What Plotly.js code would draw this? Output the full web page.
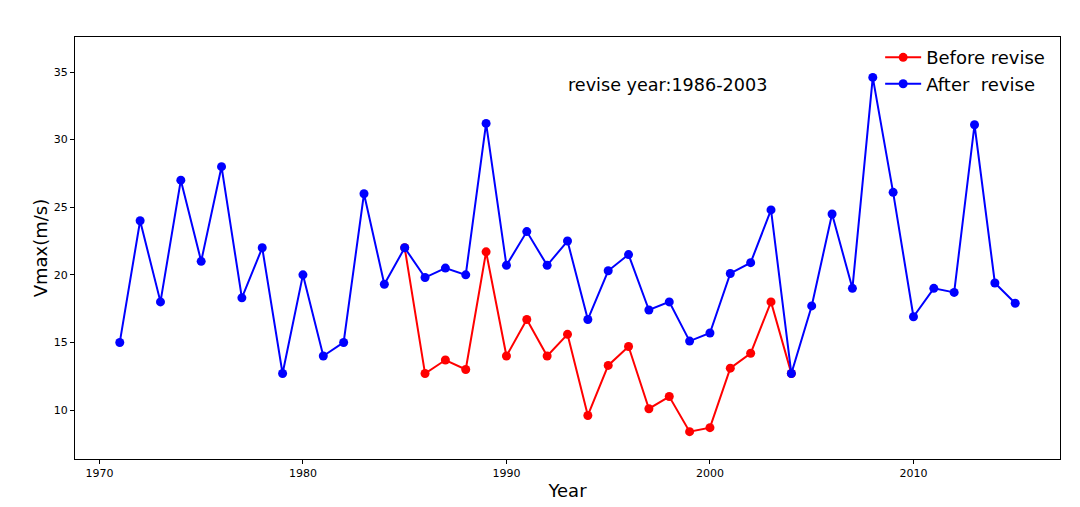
<!DOCTYPE html>
<html>
<head>
<meta charset="utf-8">
<script src="https://cdn.plot.ly/plotly-3.0.1.min.js"></script>
<style>html,body{margin:0;padding:0;background:#fff;}#chart{width:1080px;height:507px;}</style>
</head>
<body>
<div id="chart"></div>
<script>
const afterYears = [1971,1972,1973,1974,1975,1976,1977,1978,1979,1980,1981,1982,1983,1984,1985,1986,1987,1988,1989,1990,1991,1992,1993,1994,1995,1996,1997,1998,1999,2000,2001,2002,2003,2004,2005,2006,2007,2008,2009,2010,2011,2012,2013,2014,2015];
const afterValues = [15,24,18,27,21,28,18.3,22,12.7,20,14,15,26,19.3,22,19.8,20.5,20,31.2,20.7,23.2,20.7,22.5,16.7,20.3,21.5,17.4,18,15.1,15.7,20.1,20.9,24.8,12.7,17.7,24.5,19,34.6,26.1,16.9,19,18.7,31.1,19.4,17.9];
const beforeYears = [1985,1986,1987,1988,1989,1990,1991,1992,1993,1994,1995,1996,1997,1998,1999,2000,2001,2002,2003,2004];
const beforeValues = [22,12.7,13.7,13,21.7,14,16.7,14,15.6,9.6,13.3,14.7,10.1,11,8.4,8.7,13.1,14.2,18,12.7];
const xTicks = [1970,1980,1990,2000,2010];
const yTicks = [10,15,20,25,30,35];

const font = "DejaVu Sans, sans-serif";
const traces = [
  {x: beforeYears, y: beforeValues, name: 'Before revise', mode: 'lines+markers',
   line: {color: 'red', width: 2}, marker: {color: 'red', size: 9}},
  {x: afterYears, y: afterValues, name: 'After  revise', mode: 'lines+markers',
   line: {color: 'blue', width: 2}, marker: {color: 'blue', size: 9}}
];
const layout = {
  width: 1080, height: 507,
  margin: {l: 75, r: 20, t: 37, b: 48},
  paper_bgcolor: '#fff', plot_bgcolor: '#fff',
  font: {family: font, color: '#000'},
  showlegend: true,
  legend: {x: 0.99, xanchor: 'right', y: 0.995, yanchor: 'top', bgcolor: 'rgba(0,0,0,0)',
           font: {size: 18, family: font}, tracegroupgap: 0, itemwidth: 36},
  xaxis: {range: [1968.8, 2017.2], tickvals: xTicks, ticktext: xTicks.map(String),
          showgrid: false, zeroline: false, showline: true, mirror: true, linecolor: '#000', linewidth: 1,
          ticks: 'outside', ticklen: 4, tickcolor: '#000', tickfont: {size: 11, family: font},
          title: {text: 'Year', font: {size: 18, family: font}, standoff: 5}},
  yaxis: {range: [6.38, 37.59], tickvals: yTicks, ticktext: yTicks.map(String),
          showgrid: false, zeroline: false, showline: true, mirror: true, linecolor: '#000', linewidth: 1,
          ticks: 'outside', ticklen: 4, tickcolor: '#000', tickfont: {size: 11, family: font},
          title: {text: 'Vmax(m/s)', font: {size: 18, family: font}, standoff: 1}},
  annotations: [{x: 1992.95, y: 34.04, xref: 'x', yref: 'y', xanchor: 'left', yanchor: 'middle',
                 text: 'revise year:1986-2003', showarrow: false, font: {size: 17.6, family: font}}]
};
Plotly.newPlot('chart', traces, layout, {displayModeBar: false});
</script>
</body>
</html>
